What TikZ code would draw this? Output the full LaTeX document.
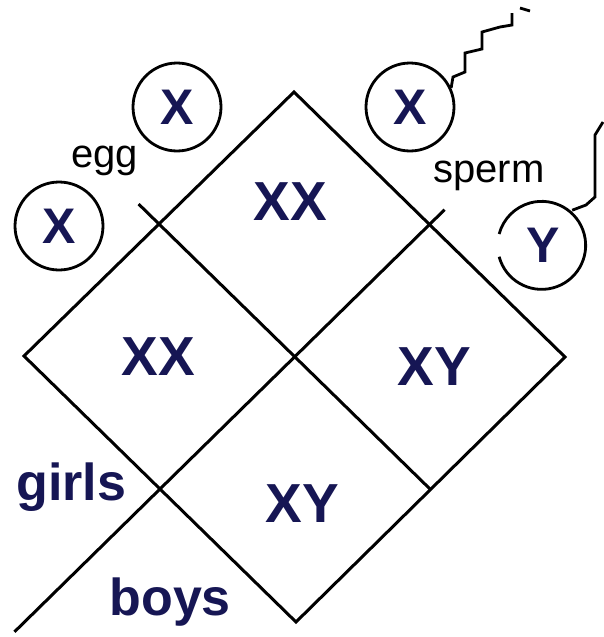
\documentclass[tikz,border=0pt]{standalone}
\usepackage{fontspec}
\setmainfont{Liberation Sans}
\usetikzlibrary{calc}
\definecolor{tinta}{RGB}{22,22,84}
\begin{document}
\begin{tikzpicture}[x=1pt,y=-1pt,line width=3pt,
  celula/.style={font=\fontsize{55}{55}\selectfont\bfseries,text=tinta,anchor=base,inner sep=0pt},
  gameta/.style={circle,minimum size=88pt,inner sep=0pt,line width=2.8pt,
    font=\fontsize{50}{50}\selectfont\bfseries,text=tinta},
  rotulo/.style={font=\fontsize{40}{40}\selectfont,anchor=base west,inner sep=0pt},
  sexo/.style={font=\fontsize{52}{52}\selectfont\bfseries,text=tinta,anchor=base west,inner sep=0pt},
  cauda/.style={line width=2.8pt}]

\useasboundingbox (0,0) rectangle (603,637);

% VERTICES DO LOSANGO
\coordinate (T) at (294,92);
\coordinate (R) at (565,357);
\coordinate (B) at (296,622);
\coordinate (L) at (24,356);

% PONTOS MEDIOS
\coordinate (TL) at ($(T)!0.5!(L)$);
\coordinate (TR) at ($(T)!0.5!(R)$);
\coordinate (BR) at ($(B)!0.5!(R)$);
\coordinate (BL) at ($(B)!0.5!(L)$);

% LOSANGO
\draw (T) -- (R) -- (B) -- (L) -- cycle;

% DIVISOES
\draw ($(TL)!-0.075!(BR)$) -- (BR);
\draw ($(TR)!-0.056!(BL)$) -- ($(TR)!1.54!(BL)$);

% CELULAS
\node[celula] (xxtop) at (290,220) {XX};
\node[celula] (xxleft) at (158,375) {XX};
\node[celula] (xyright) at (434,385) {XY};
\node[celula] (xybottom) at (302,522) {XY};

% OVULOS
\node[gameta,draw] (eggA) at (177,107) {X};
\node[gameta,draw] (eggB) at (59,226) {X};
\node[rotulo] (egg) at (70,167) {egg};

% ESPERMATOZOIDES
\node[gameta,draw] (spermX) at (410,107) {X};
\node[gameta] (spermY) at (543,245) {Y};
\draw[cauda] (spermY.195) arc[start angle=195,end angle=525,radius=44pt];
\node[rotulo] (sperm) at (432,182) {sperm};

% CAUDAS
\draw[cauda]
(spermX.25) -- (453,77) -- (465,72) -- (465,53) -- (482,49)
-- (482,32) -- (500,27) -- (512,25) -- (512,13);
\draw[cauda] (520,8) -- (530,11);
\draw[cauda]
(spermY.50) -- (586,205) -- (595,197) -- (595,135) -- (603,122);

% MENINAS E MENINOS
\node[sexo] (girls) at (15,500) {girls};
\node[sexo] (boys) at (108,615) {boys};

\end{tikzpicture}
\end{document}
